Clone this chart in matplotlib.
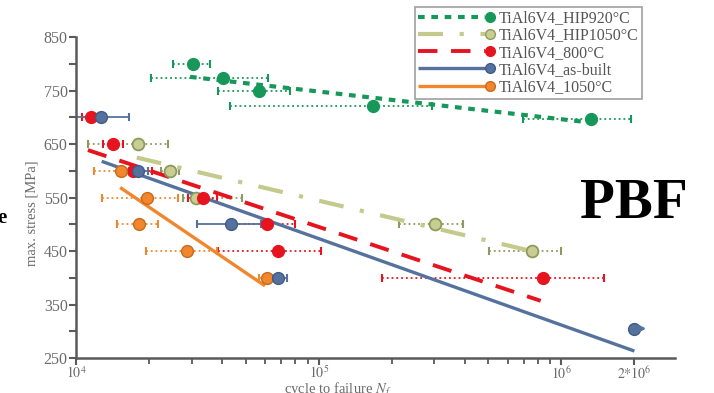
import matplotlib
matplotlib.use("Agg")
import matplotlib.pyplot as plt
from matplotlib.lines import Line2D
from matplotlib.legend_handler import HandlerBase
from matplotlib.ticker import FixedLocator, NullFormatter

plt.rcParams['font.family'] = ['Liberation Serif', 'DejaVu Serif']
plt.rcParams['mathtext.fontset'] = 'stix'

# ---- data ----
# TiAl6V4_HIP920°C
hip920_n = [30350, 40300, 56800, 167500, 1.32e6]
hip920_s = [800, 773, 750, 722, 697]
hip920_lo = [25100, 20400, 38500, 43200, 695000]
hip920_hi = [35650, 61800, 76200, 293000, 1.94e6]
hip920_fit_n = [29500, 1.29e6]
hip920_fit_s = [776, 691]

# TiAl6V4_HIP1050°C
hip1050_n = [17950, 24400, 31100, 302000, 755000]
hip1050_s = [650, 600, 550, 500, 450]
hip1050_lo = [11200, 22500, 27600, 214000, 503000]
hip1050_hi = [23900, 26500, 48200, 394000, 998000]
hip1050_fit_n = [17800, 755000]
hip1050_fit_s = [625, 450]

# TiAl6V4_800°C
t800_n = [11500, 14160, 17200, 33400, 61100, 67800, 840000]
t800_s = [700, 650, 600, 550, 500, 450, 400]
t800_lo = [10600, 12900, 15200, 28900, 44800, 38600, 182000]
t800_hi = [12100, 15600, 20500, 38100, 80000, 102000, 1.5e6]
t800_fit_n = [11200, 822000]
t800_fit_s = [639, 357]

# TiAl6V4_as-built
built_n = [12680, 18070, 43500, 68200]
built_s = [700, 600, 500, 400]
built_lo = [9700, 16500, 31450, 63000]
built_hi = [16600, 19800, 58000, 73800]
built_fit_n = [12760, 2e6]
built_fit_s = [618, 263]
runout_n = [2e6]
runout_s = [305]

# TiAl6V4_1050°C
t1050_n = [15300, 19670, 18240, 28600, 61100]
t1050_s = [600, 550, 500, 450, 400]
t1050_lo = [11900, 12760, 14800, 19500, 57000]
t1050_hi = [16900, 26400, 21800, 38000, 64000]
t1050_fit_n = [15200, 60100]
t1050_fit_s = [569, 385]

labels = ['TiAl6V4_HIP920°C', 'TiAl6V4_HIP1050°C', 'TiAl6V4_800°C',
          'TiAl6V4_as-built', 'TiAl6V4_1050°C']

green = '#17985a'
olive_line = '#c4c98c'
olive_face = '#c9cd92'
olive_edge = '#8d9a5e'
red = '#e6141e'
blue = '#55729e'
blue_edge = '#3f5a85'
orange = '#f0872e'
orange_edge = '#c86a1c'
axcol = '#5a5a5a'

# line styles: (colour, width, dashes)
st_920 = (green, 3, (1.6, 1.6))
st_1050h = (olive_line, 3, (6, 4, 1, 4))
st_800 = (red, 2.8, (5, 3.5))
st_built = (blue, 2.4, None)
st_1050 = (orange, 2.4, None)

fig = plt.figure(figsize=(7.14, 3.93), dpi=100)
ax = fig.add_axes([76/714, 1-358/393, 599/714, (358-37.3)/393])
ax.set_xscale('log')
ax.set_xlim(1e4, 2.94e6)
ax.set_ylim(250, 850)


def errs(n, s, lo, hi, col, ls):
    e = ax.errorbar(n, s, xerr=[[a - b for a, b in zip(n, lo)], [b - a for a, b in zip(n, hi)]],
                    fmt='none', ecolor=col, elinewidth=1.3, capsize=3, capthick=1.5, zorder=2)
    for c in e[2]:
        c.set_linestyle(ls)


def fit(n, s, st):
    col, lw, dash = st
    ln, = ax.plot(n, s, color=col, lw=lw, zorder=3, solid_capstyle='butt')
    if dash:
        ln.set_dashes(dash)


errs(hip920_n, hip920_s, hip920_lo, hip920_hi, green, ':')
errs(hip1050_n, hip1050_s, hip1050_lo, hip1050_hi, olive_edge, ':')
errs(t800_n, t800_s, t800_lo, t800_hi, red, ':')
errs(built_n, built_s, built_lo, built_hi, blue, '-')
errs(t1050_n, t1050_s, t1050_lo, t1050_hi, orange, ':')

fit(hip920_fit_n, hip920_fit_s, st_920)
fit(hip1050_fit_n, hip1050_fit_s, st_1050h)
fit(t800_fit_n, t800_fit_s, st_800)
fit(built_fit_n, built_fit_s, st_built)
fit(t1050_fit_n, t1050_fit_s, st_1050)

# points
ms = 8.5
ax.plot(hip920_n, hip920_s, 'o', ms=ms, mfc=green, mec=green, zorder=4)
ax.plot(hip1050_n, hip1050_s, 'o', ms=ms, mfc=olive_face, mec=olive_edge, mew=1.3, zorder=4)
ax.plot(t800_n, t800_s, 'o', ms=ms, mfc=red, mec=red, zorder=4)
ax.plot(built_n + runout_n, built_s + runout_s, 'o', ms=ms, mfc=blue, mec=blue_edge, mew=1.0, zorder=5)
ax.plot(t1050_n, t1050_s, 'o', ms=ms, mfc=orange, mec=orange_edge, mew=1.0, zorder=4)
for n, s in zip(runout_n, runout_s):
    ax.annotate('', xy=(n * 1.15, s), xytext=(n, s),
                arrowprops=dict(arrowstyle='-|>', color=blue, lw=2, mutation_scale=9),
                zorder=5)

# axes styling
for side in ['top', 'right']:
    ax.spines[side].set_visible(False)
for side in ['left', 'bottom']:
    ax.spines[side].set_color(axcol)
    ax.spines[side].set_linewidth(1.8)

ytick_vals = list(range(250, 851, 50))
ax.set_yticks(ytick_vals)
ax.set_yticklabels([str(v) if v % 100 == 50 else '' for v in ytick_vals])
xtick_vals = [1e4, 1e5, 1e6, 2e6]
xtick_labels = [r'$10^{4}$', r'$10^{5}$', r'$10^{6}$', r'$2{*}10^{6}$']
ax.set_xticks(xtick_vals)
ax.set_xticklabels(xtick_labels)
minor = [m * 10 ** e for e in (4, 5) for m in range(2, 10)]
ax.xaxis.set_minor_locator(FixedLocator(minor))
ax.xaxis.set_minor_formatter(NullFormatter())
ax.tick_params(axis='y', direction='out', length=5, width=1.5, color=axcol,
               labelcolor='#6a6a6a', labelsize=11.5, pad=1)
ax.tick_params(axis='x', which='major', direction='out', length=5, width=1.5, color=axcol,
               labelcolor='#6a6a6a', labelsize=10, pad=0)
ax.tick_params(axis='x', which='minor', direction='out', length=4, width=1.3, color=axcol)

ax.set_ylabel('max. stress [MPa]', color='#6a6a6a', fontsize=10.5)
ax.yaxis.set_label_coords(-0.063, 0.45)
ax.set_xlabel(r'cycle to failure $N_f$', color='#6a6a6a', fontsize=10.5)
ax.xaxis.set_label_coords(0.437, -0.071)


# legend: line with dot at its right end
class LineDot(HandlerBase):
    def __init__(self, st, mfc, mec):
        super().__init__()
        self.st, self.mfc, self.mec = st, mfc, mec

    def create_artists(self, legend, orig, xd, yd, w, h, fs, trans):
        col, lw, dash = self.st
        y = h / 2 - yd
        ln = Line2D([-xd, w - xd - 4], [y, y], color=col, lw=lw, solid_capstyle='butt')
        if dash:
            ln.set_dashes(dash)
        dot = Line2D([w - xd], [y], marker='o', ms=7, mfc=self.mfc, mec=self.mec, ls='none')
        ln.set_transform(trans)
        dot.set_transform(trans)
        return [ln, dot]


handles = [Line2D([], []) for _ in labels]
hmap = {handles[0]: LineDot(st_920, green, green),
        handles[1]: LineDot(st_1050h, olive_face, olive_edge),
        handles[2]: LineDot(st_800, red, red),
        handles[3]: LineDot(st_built, blue, blue_edge),
        handles[4]: LineDot(st_1050, orange, orange_edge)}
leg = fig.legend(handles, labels, handler_map=hmap,
                 loc='upper left', bbox_to_anchor=(415/714, 1-7/393),
                 fontsize=11.5, handlelength=4.5, handletextpad=0.55, labelspacing=0.08,
                 borderpad=0.2, fancybox=False, frameon=True, borderaxespad=0)
leg.get_frame().set_edgecolor('#888888')
leg.get_frame().set_linewidth(1.2)
for t in leg.get_texts():
    t.set_color('#555555')

fig.text(634/714, 1-204/393, 'PBF', fontsize=41, fontweight='bold', ha='center',
         va='center', color='black')
fig.text(-0.004, 1-218/393, 'e', fontsize=15, fontweight='bold', ha='left',
         va='center', color='black')

fig.savefig('out.png', dpi=100)
